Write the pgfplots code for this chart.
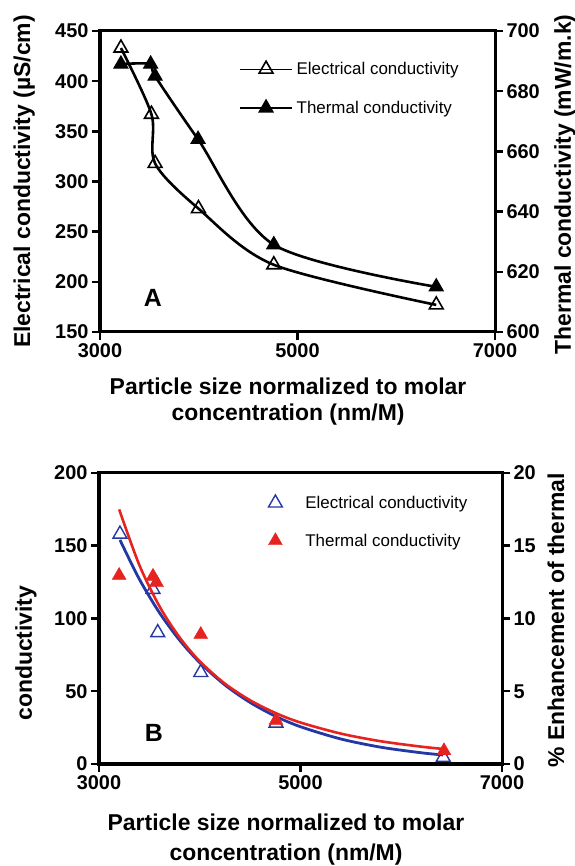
\documentclass[border=0pt]{standalone}
\usepackage{fontspec}
\setmainfont{Liberation Sans}
\usepackage{pgfplots}
\pgfplotsset{compat=1.18}
\definecolor{myred}{RGB}{230,35,30}
\definecolor{myblue}{RGB}{35,55,165}
\newcommand{\labfont}{\fontsize{23}{27}\selectfont\bfseries}
\pgfplotsset{
  common/.style={
    scale only axis, anchor=south west,
    xmin=3000, xmax=7000, xtick={3000,5000,7000},
    tick align=outside, major tick length=8bp,
    major tick style={black, line width=2.5bp},
    axis line style={line width=3bp},
    tick label style={font=\fontsize{20}{22}\selectfont\bfseries},
    /pgf/number format/assume math mode=true,
    /pgf/number format/set thousands separator={},
    clip=false,
  }
}
\begin{document}
\begin{tikzpicture}
\useasboundingbox (0,0) rectangle (575bp,866bp);
% ---------------- Panel A ----------------
\begin{axis}[common, at={(100bp,534bp)}, width=395bp, height=301bp,
  ymin=150, ymax=450, ytick={150,200,...,450},
  xtick pos=left, ytick pos=left,
  xlabel={Particle size normalized to molar\\concentration (nm/M)},
  ylabel={Electrical conductivity (µS/cm)},
  every axis x label/.style={at={(axis description cs:0.476,-0.231)},anchor=center,align=center,font=\labfont},
  every axis y label/.style={at={(axis description cs:-0.192,0.5)},anchor=center,rotate=90,font=\labfont},
  legend image code/.code={\draw[mark repeat=2,mark phase=2,#1,line width=1.2bp] plot coordinates {(0bp,0bp) (26bp,0bp) (52bp,0bp)};},
  legend style={draw=none, fill=none, at={(axis description cs:0.345,0.91)}, anchor=north west,
    font=\fontsize{17}{20}\selectfont, row sep=21bp},
  legend cell align=left]
\addplot[black, line width=2.6bp, smooth, mark=triangle, mark size=8bp,
  mark options={line width=1.6bp, fill=white, solid}]
  coordinates {(3212,433) (3521,367) (3558,318) (3997,273) (4760,217) (6405,177)};
\addlegendentry{\hspace{2bp}Electrical conductivity}
\addlegendimage{black, line width=2.6bp, mark=triangle*, mark size=8bp, mark options={line width=1.2bp, fill=black, solid}}
\addlegendentry{\hspace{2bp}Thermal conductivity}
\node[font=\fontsize{25}{28}\selectfont\bfseries] at (axis description cs:0.134,0.113) {A};
\end{axis}
\begin{axis}[common, at={(100bp,534bp)}, width=395bp, height=301bp,
  ymin=600, ymax=700, ytick={600,620,...,700},
  axis x line=none, axis y line*=right,
  ylabel={Thermal conductivity (mW/m.k)},
  every axis y label/.style={at={(axis description cs:1.177,0.49)},anchor=center,rotate=90,font=\labfont}]
\addplot[black, line width=2.6bp, smooth, mark=triangle*, mark size=8bp,
  mark options={line width=1.2bp, fill=black, solid}]
  coordinates {(3212,689) (3513,689) (3558,685) (3993,664) (4760,629) (6405,615)};
\end{axis}
% ---------------- Panel B ----------------
\begin{axis}[common, at={(99bp,102bp)}, width=403bp, height=291bp,
  ymin=0, ymax=200, ytick={0,50,...,200},
  xtick pos=left, ytick pos=left,
  xlabel={Particle size normalized to molar\\concentration (nm/M)},
  ylabel={conductivity},
  every axis x label/.style={at={(axis description cs:0.464,-0.261)},anchor=center,align=center,font=\fontsize{23}{30}\selectfont\bfseries},
  every axis y label/.style={at={(axis description cs:-0.181,0.381)},anchor=center,rotate=90,font=\labfont},
  legend image code/.code={\path[draw=none,fill=none] (0bp,0bp) -- (38bp,0bp); \draw[mark repeat=2,mark phase=2,#1] plot coordinates {(0bp,0bp) (10bp,0bp) (20bp,0bp)};},
  legend style={draw=none, fill=none, at={(axis description cs:0.405,0.935)}, anchor=north west,
    font=\fontsize{17}{20}\selectfont, row sep=20bp},
  legend cell align=left]
\addplot[myblue, line width=2.8bp, smooth, no marks, forget plot]
  coordinates {(3208,154) (3400,127.1) (3600,104.0) (3800,85.1) (4000,69.7) (4250,54.3) (4500,42.3) (4750,32.9) (5000,25.6) (5400,17.2) (5800,11.5) (6200,7.7) (6417,6.2)};
\addplot[only marks, mark=triangle, mark size=8bp, mark options={myblue, line width=1.4bp, fill=white}]
  coordinates {(3208,158) (3536,120) (3583,90.3) (4010,62.9) (4757,28.1) (6417,4.6)};
\addlegendentry{Electrical conductivity}
\addlegendimage{only marks, mark=triangle*, mark size=8bp, mark options={myred, fill=myred}}
\addlegendentry{Thermal conductivity}
\node[font=\fontsize{25}{28}\selectfont\bfseries] at (axis description cs:0.136,0.107) {B};
\end{axis}
\begin{axis}[common, at={(99bp,102bp)}, width=403bp, height=291bp,
  ymin=0, ymax=20, ytick={0,5,...,20},
  axis x line=none, axis y line*=right,
  ylabel={\% Enhancement of thermal},
  every axis y label/.style={at={(axis description cs:1.134,0.495)},anchor=center,rotate=90,font=\labfont}]
\addplot[myred, line width=2.6bp, smooth, no marks]
  coordinates {(3200,17.5) (3400,13.68) (3600,10.84) (3800,8.70) (4000,7.06) (4250,5.52) (4500,4.38) (4750,3.51) (5000,2.85) (5400,2.09) (5800,1.56) (6200,1.19) (6424,1.03)};
\addplot[only marks, mark=triangle*, mark size=8bp, mark options={myred, fill=myred}]
  coordinates {(3200,12.96) (3536,12.9) (3572,12.46) (4010,8.9) (4757,3.0) (6424,0.91)};
\end{axis}
\end{tikzpicture}
\end{document}
